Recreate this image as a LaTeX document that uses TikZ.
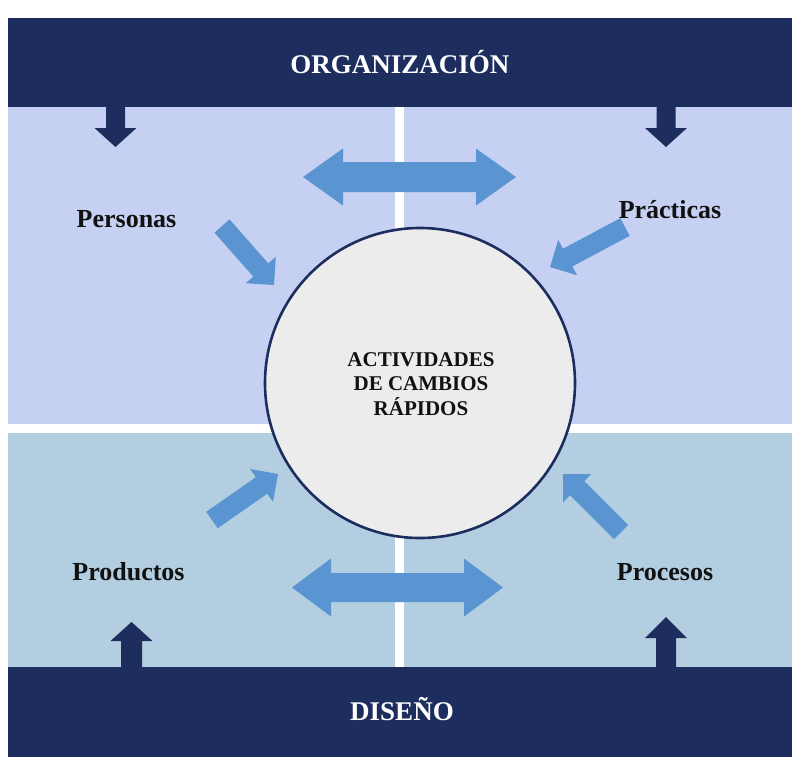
\documentclass[tikz,border=0pt]{standalone}
\usepackage{fontspec}
\setmainfont{Liberation Serif}
\usetikzlibrary{calc}
\definecolor{navy}{HTML}{1C2D5E}
\definecolor{lightarrow}{HTML}{5A95D2}
\definecolor{topq}{HTML}{C6D0F2}
\definecolor{botq}{HTML}{B2CEE0}
\definecolor{circfill}{HTML}{ECECEC}
\definecolor{inktext}{HTML}{111111}

% #1 style, #2 tail, #3 tip, #4 shaft half width, #5 head half width, #6 head length
\newcommand\blockarrow[6]{%
  \coordinate (#2-hb) at ($(#3)!#6!(#2)$);
  \fill[#1] ($(#2)!#4!90:(#3)$) -- ($(#2-hb)!#4!-90:(#2)$) -- ($(#2-hb)!#5!-90:(#2)$)
    -- (#3) -- ($(#2-hb)!#5!90:(#2)$) -- ($(#2-hb)!#4!90:(#2)$) -- ($(#2)!#4!-90:(#3)$) -- cycle;
}
% #1 style, #2 left tip, #3 right tip, #4 shaft half, #5 head half, #6 head length
\newcommand\twowayarrow[6]{%
  \coordinate (#2-hb) at ($(#2)!#6!(#3)$);
  \coordinate (#3-hb) at ($(#3)!#6!(#2)$);
  \fill[#1] (#2) -- ($(#2-hb)!#5!90:(#3)$) -- ($(#2-hb)!#4!90:(#3)$)
    -- ($(#3-hb)!#4!-90:(#2)$) -- ($(#3-hb)!#5!-90:(#2)$) -- (#3)
    -- ($(#3-hb)!#5!90:(#2)$) -- ($(#3-hb)!#4!90:(#2)$)
    -- ($(#2-hb)!#4!-90:(#3)$) -- ($(#2-hb)!#5!-90:(#3)$) -- cycle;
}

\tikzset{
  barbox/.style={fill=navy, draw=none, inner sep=0pt},
  bartext/.style={text=white, font=\bfseries\fontsize{27}{32}\selectfont, inner sep=0pt, anchor=base},
  labeltext/.style={text=inktext, font=\bfseries\fontsize{26}{30}\selectfont, inner sep=0pt, anchor=base},
  hubtext/.style={text=inktext, font=\bfseries\fontsize{21}{24.5}\selectfont, inner sep=0pt, align=center},
  hubcircle/.style={circle, draw=navy, line width=2.6pt, fill=circfill, inner sep=0pt, minimum size=310pt},
  darkarrow/.style={fill=navy},
  lightarr/.style={fill=lightarrow},
}

\begin{document}
\begin{tikzpicture}[x=1pt,y=-1pt]
\useasboundingbox[fill=white] (0,0) rectangle (801,769);

% quadrants
\fill[topq] (8,107) rectangle (395,424);
\fill[topq] (404,107) rectangle (792,424);
\fill[botq] (8,433) rectangle (395,667);
\fill[botq] (404,433) rectangle (792,667);

% bars
\node[barbox, minimum width=784pt, minimum height=89pt] (orgbar) at (400,62.5) {};
\node[barbox, minimum width=784pt, minimum height=90pt] (disbar) at (400,712) {};
\node[bartext] (org) at (400,73) {ORGANIZACIÓN};
\node[bartext] (dis) at (402,720) {DISEÑO};

% vertical arrows
\coordinate (tlA) at (115.5,100); \coordinate (tlB) at (115.5,147);
\coordinate (trA) at (666,100);   \coordinate (trB) at (666,147);
\coordinate (blA) at (131.5,675); \coordinate (blB) at (131.5,622);
\coordinate (brA) at (666,675);   \coordinate (brB) at (666,617);
\blockarrow{darkarrow}{tlA}{tlB}{9.5pt}{21pt}{19pt}
\blockarrow{darkarrow}{trA}{trB}{9.5pt}{21pt}{19pt}
\blockarrow{darkarrow}{blA}{blB}{10.5pt}{21pt}{19pt}
\blockarrow{darkarrow}{brA}{brB}{10pt}{21pt}{21pt}

% double arrows
\coordinate (dtL) at (303,177); \coordinate (dtR) at (516,177);
\coordinate (dbL) at (292,587.5); \coordinate (dbR) at (503,587.5);
\twowayarrow{lightarr}{dtL}{dtR}{15pt}{28.5pt}{40pt}
\twowayarrow{lightarr}{dbL}{dbR}{14.5pt}{29pt}{39pt}

% central circle
\node[hubcircle] (hub) at (420,383) {};
\node[hubtext] (hubt) at (421,384) {ACTIVIDADES\\DE CAMBIOS\\RÁPIDOS};

% diagonal arrows
\coordinate (peA) at (222,226); \coordinate (peB) at (274,285);
\coordinate (prA) at (625,227); \coordinate (prB) at (550,267);
\coordinate (poA) at (212,520); \coordinate (poB) at (278,474);
\coordinate (psA) at (621,532); \coordinate (psB) at (563,474);
\blockarrow{lightarr}{peA}{peB}{10pt}{20pt}{20pt}
\blockarrow{lightarr}{prA}{prB}{10pt}{20pt}{20pt}
\blockarrow{lightarr}{poA}{poB}{10pt}{20pt}{20pt}
\blockarrow{lightarr}{psA}{psB}{10pt}{20pt}{20pt}

% labels
\node[labeltext] (personas) at (126.5,227) {Personas};
\node[labeltext] (practicas) at (670,218) {Prácticas};
\node[labeltext] (productos) at (128.5,580) {Productos};
\node[labeltext] (procesos) at (665,580) {Procesos};
\end{tikzpicture}
\end{document}
